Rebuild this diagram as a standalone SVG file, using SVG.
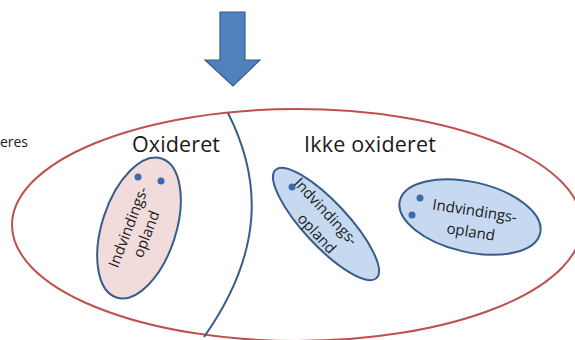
<svg xmlns="http://www.w3.org/2000/svg" width="575" height="340" viewBox="0 0 575 340">
  <style>
    .lbl { font-family: "Open Sans", "Liberation Sans", sans-serif; fill: #1a1a1a; }
    .head { font-size: 21.5px; }
    .small { font-size: 15px; text-anchor: middle; }
    .sub { stroke: #385D8A; stroke-width: 2; }
    .dot { fill: #3A6BAE; }
  </style>
  <rect width="575" height="340" fill="#ffffff"/>

  <g id="arrow">
    <polygon points="220,12 245,12 245,60 260,60 233,86 205,60 220,60" fill="#4F81BD" stroke="#385D8A" stroke-width="1.2"/>
  </g>

  <g id="partial-label">
    <text class="lbl" x="28" y="147" font-size="14" text-anchor="end">eres</text>
  </g>

  <g id="outer">
    <ellipse cx="297" cy="225" rx="285" ry="116" fill="none" stroke="#C0504D" stroke-width="2"/>
  </g>

  <g id="connectors">
    <path d="M228,113 C262,180 264,252 204,337" fill="none" stroke="#385D8A" stroke-width="2"/>
  </g>

  <g id="oxideret-label">
    <text class="lbl head" x="132" y="152" textLength="88">Oxideret</text>
  </g>
  <g id="ikke-oxideret-label">
    <text class="lbl head" x="304" y="152" textLength="132">Ikke oxideret</text>
  </g>

  <g id="opland-pink">
    <ellipse cx="139" cy="228" rx="73" ry="37" transform="rotate(-72 139 228)" fill="#F2DCDB" class="sub"/>
    <circle class="dot" cx="138" cy="177" r="3.5"/>
    <circle class="dot" cx="161" cy="181" r="3.5"/>
    <text class="lbl small" x="133" y="229" transform="rotate(-69 133 229)">Indvindings-</text>
    <text class="lbl small" x="151" y="236" transform="rotate(-69 151 236)">opland</text>
  </g>

  <g id="opland-blue-middle">
    <ellipse cx="326" cy="224" rx="74" ry="22" transform="rotate(47 326 224)" fill="#C6D9F1" class="sub"/>
    <circle class="dot" cx="292" cy="187" r="3.5"/>
    <text class="lbl small" x="322" y="215" transform="rotate(47 322 215)">Indvindings-</text>
    <text class="lbl small" x="313" y="237" transform="rotate(47 313 237)">opland</text>
  </g>

  <g id="opland-blue-right">
    <ellipse cx="470" cy="217" rx="72" ry="35" transform="rotate(13 470 217)" fill="#C6D9F1" class="sub"/>
    <circle class="dot" cx="420" cy="198" r="3.5"/>
    <circle class="dot" cx="412" cy="215" r="3.5"/>
    <text class="lbl small" x="474" y="216" transform="rotate(9 474 216)">Indvindings-</text>
    <text class="lbl small" x="470" y="237" transform="rotate(9 470 237)">opland</text>
  </g>
</svg>
